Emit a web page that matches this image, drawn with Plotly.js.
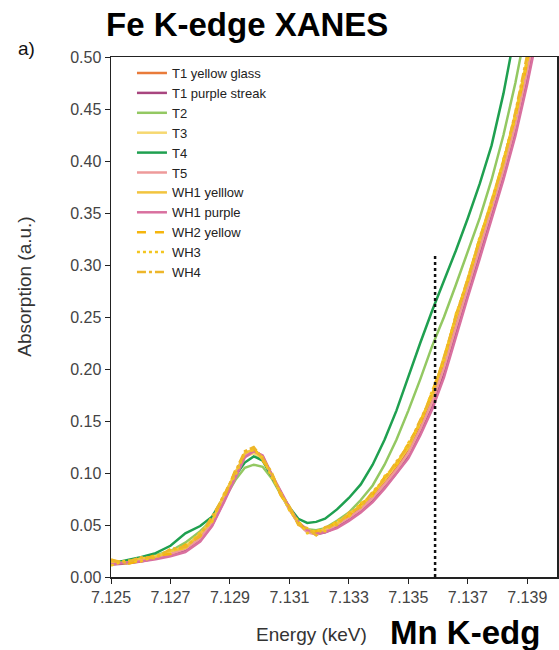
<!DOCTYPE html>
<html>
<head>
<meta charset="utf-8">
<script src="https://cdn.plot.ly/plotly-3.0.1.min.js"></script>
<style>html,body{margin:0;padding:0;background:#fff;}#chart{width:559px;height:650px;}</style>
</head>
<body>
<div id="chart"></div>
<script>
// Energy grid (keV)
const energy = [7.1250,7.1255,7.1260,7.1265,7.1270,7.1275,7.1280,7.1284,7.1288,7.1292,7.1295,7.1298,7.1301,7.1304,7.1307,7.1310,7.1313,7.1316,7.1319,7.1322,7.1326,7.1330,7.1334,7.1338,7.1342,7.1346,7.1350,7.1354,7.1358,7.1362,7.1366,7.1370,7.1374,7.1378,7.1382,7.1386,7.1390,7.1394,7.1398];

// Absorption (a.u.) per sample
const t1YellowGlass = [0.013,0.015,0.017,0.020,0.023,0.029,0.040,0.055,0.077,0.101,0.117,0.121,0.115,0.097,0.081,0.065,0.052,0.044,0.042,0.045,0.051,0.059,0.067,0.078,0.090,0.105,0.123,0.146,0.172,0.206,0.246,0.283,0.320,0.357,0.396,0.440,0.492,0.550,0.610];
const t1PurpleStreak = [0.012,0.013,0.015,0.018,0.021,0.025,0.035,0.050,0.073,0.098,0.116,0.122,0.116,0.098,0.082,0.066,0.052,0.044,0.041,0.043,0.048,0.055,0.063,0.073,0.086,0.100,0.116,0.138,0.163,0.195,0.234,0.272,0.309,0.346,0.385,0.428,0.478,0.535,0.595];
const t2 = [0.013,0.015,0.017,0.021,0.025,0.033,0.044,0.055,0.074,0.094,0.105,0.108,0.106,0.095,0.080,0.065,0.052,0.046,0.045,0.047,0.054,0.062,0.074,0.088,0.108,0.132,0.160,0.190,0.222,0.250,0.281,0.312,0.345,0.382,0.425,0.475,0.530,0.590,0.650];
const t3 = [0.014,0.015,0.017,0.020,0.024,0.030,0.041,0.056,0.078,0.102,0.116,0.119,0.114,0.097,0.081,0.065,0.052,0.045,0.043,0.046,0.052,0.060,0.069,0.080,0.094,0.108,0.125,0.149,0.176,0.210,0.250,0.287,0.324,0.361,0.400,0.444,0.496,0.555,0.615];
const t4 = [0.013,0.016,0.019,0.023,0.030,0.042,0.049,0.058,0.077,0.098,0.110,0.116,0.112,0.097,0.081,0.067,0.056,0.052,0.053,0.056,0.065,0.076,0.089,0.108,0.132,0.160,0.193,0.225,0.256,0.285,0.314,0.345,0.378,0.415,0.465,0.525,0.585,0.645,0.705];
const t5 = [0.013,0.014,0.016,0.019,0.022,0.027,0.037,0.052,0.075,0.100,0.117,0.121,0.116,0.098,0.081,0.065,0.051,0.043,0.041,0.044,0.050,0.057,0.065,0.076,0.089,0.103,0.119,0.142,0.168,0.201,0.240,0.278,0.315,0.352,0.391,0.434,0.486,0.545,0.605];
const wh1Yellow = [0.015,0.013,0.018,0.019,0.025,0.028,0.042,0.054,0.079,0.100,0.119,0.123,0.113,0.099,0.080,0.067,0.051,0.046,0.041,0.047,0.051,0.061,0.068,0.081,0.093,0.110,0.124,0.150,0.174,0.212,0.249,0.288,0.323,0.362,0.398,0.446,0.497,0.556,0.616];
const wh1Purple = [0.012,0.014,0.015,0.017,0.020,0.024,0.034,0.049,0.072,0.097,0.115,0.121,0.117,0.099,0.083,0.067,0.053,0.045,0.042,0.043,0.047,0.054,0.062,0.072,0.085,0.099,0.114,0.136,0.161,0.192,0.231,0.269,0.306,0.343,0.382,0.424,0.474,0.530,0.590];
const wh2Yellow = [0.017,0.012,0.016,0.021,0.022,0.031,0.039,0.057,0.076,0.104,0.118,0.124,0.112,0.100,0.079,0.066,0.053,0.043,0.044,0.046,0.053,0.059,0.070,0.079,0.096,0.108,0.128,0.148,0.178,0.209,0.252,0.285,0.326,0.359,0.401,0.443,0.495,0.554,0.613];
const wh3 = [0.011,0.016,0.015,0.020,0.026,0.028,0.043,0.053,0.080,0.099,0.120,0.122,0.115,0.096,0.082,0.064,0.054,0.042,0.045,0.044,0.054,0.058,0.071,0.078,0.097,0.107,0.129,0.147,0.179,0.207,0.253,0.284,0.327,0.358,0.402,0.441,0.496,0.553,0.614];
const wh4 = [0.016,0.014,0.019,0.018,0.027,0.029,0.040,0.058,0.078,0.103,0.121,0.125,0.114,0.101,0.080,0.068,0.050,0.047,0.040,0.048,0.050,0.062,0.067,0.082,0.094,0.111,0.126,0.151,0.175,0.211,0.251,0.287,0.325,0.363,0.399,0.447,0.499,0.558,0.618];

// Reference marker line
const markerEnergy = [7.1359, 7.1359];
const markerAbs = [0.0, 0.31];

const seriesNames = ["T1 yellow glass","T1 purple streak","T2","T3","T4","T5","WH1 yelllow","WH1 purple","WH2 yellow","WH3","WH4"];
const seriesData = [t1YellowGlass,t1PurpleStreak,t2,t3,t4,t5,wh1Yellow,wh1Purple,wh2Yellow,wh3,wh4];
const seriesColors = ["#E97B3A","#A8457F","#93C862","#F6D870","#1FA050","#EE9A9A","#F2C43E","#D9709F","#F5B50C","#F3C520","#EDB62A"];
const seriesDash = ["solid","solid","solid","solid","solid","solid","solid","solid","dash","dot","dashdot"];

const traces = seriesNames.map((n,i)=>({
  x: energy, y: seriesData[i], name: n, type: 'scatter', mode: 'lines',
  line: {color: seriesColors[i], width: 2.5, dash: seriesDash[i]}
}));
traces.push({x: markerEnergy, y: markerAbs, mode: 'lines', showlegend: false, hoverinfo: 'skip',
  line: {color: '#111', width: 2.5, dash: 'dot'}});

const font = 'Liberation Sans, Arial, sans-serif';
const layout = {
  width: 559, height: 650,
  margin: {l: 111, r: 2, t: 57, b: 73},
  paper_bgcolor: '#fff', plot_bgcolor: '#fff',
  font: {family: font, color: '#333'},
  showlegend: true,
  legend: {x: 0.047, y: 0.998, xanchor: 'left', yanchor: 'top', bgcolor: 'rgba(0,0,0,0)',
    font: {family: font, size: 13, color: '#222'}, tracegroupgap: 0},
  xaxis: {range: [7.125, 7.140], tick0: 7.125, dtick: 0.002, tickformat: '.3f',
    showgrid: false, zeroline: false, showline: true, linecolor: '#222', linewidth: 1.5, mirror: true,
    ticks: 'outside', ticklen: 5, tickcolor: '#222', tickfont: {size: 16, color: '#444'}},
  yaxis: {range: [0, 0.5], dtick: 0.05, tickformat: '.2f',
    showgrid: false, zeroline: false, showline: true, linecolor: '#222', linewidth: 1.5, mirror: true,
    ticks: 'outside', ticklen: 5, tickcolor: '#222', tickfont: {size: 16, color: '#444'}},
  annotations: [
    {text: 'Energy (keV)', xref: 'paper', yref: 'paper', x: 0.45, y: -0.11, xanchor: 'center', yanchor: 'middle', showarrow: false, font: {family: font, size: 19, color: '#333'}},
    {text: 'Absorption (a.u.)', xref: 'paper', yref: 'paper', x: -0.193, y: 0.558, xanchor: 'center', yanchor: 'middle', textangle: -90, showarrow: false, font: {family: font, size: 19, color: '#333'}},
    {text: '<b>Fe K-edge XANES</b>', xref: 'paper', yref: 'paper', x: 0.305, y: 1.062, xanchor: 'center', yanchor: 'middle', showarrow: false, font: {family: font, size: 33, color: '#000'}},
    {text: 'a)', xref: 'paper', yref: 'paper', x: -0.19, y: 1.017, xanchor: 'center', yanchor: 'middle', showarrow: false, font: {family: font, size: 19, color: '#111'}},
    {text: '<b>Mn K-edg</b>', xref: 'paper', yref: 'paper', x: 0.622, y: -0.107, xanchor: 'left', yanchor: 'middle', showarrow: false, font: {family: font, size: 33, color: '#000'}}
  ]
};
Plotly.newPlot('chart', traces, layout, {displayModeBar: false, staticPlot: true});
</script>
</body>
</html>
